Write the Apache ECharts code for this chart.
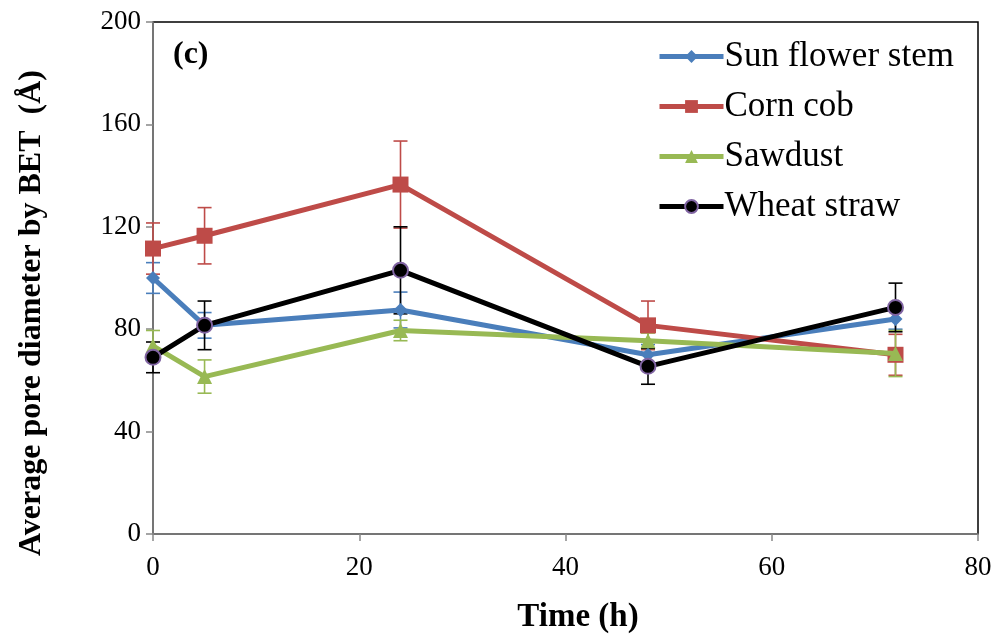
<!DOCTYPE html>
<html><head><meta charset="utf-8">
<script src="https://cdn.jsdelivr.net/npm/echarts@6/dist/echarts.min.js"></script>
<style>html,body{margin:0;padding:0;background:#fff}#c{width:1000px;height:642px}</style>
</head><body><div id="c"></div>
<script>
var times = [0, 5, 24, 48, 72];
var sunflower = [100, 81.5, 87.5, 70, 84];
var sunflowerErr = [6, 5, 7, 4, 4];
var corn = [111.5, 116.5, 136.5, 81.5, 70];
var cornErr = [10, 11, 17, 9.5, 8];
var sawdust = [73.5, 61.5, 79.5, 75.5, 70.5];
var sawdustErr = [6, 6.5, 4, 3, 9];
var wheat = [69, 81.5, 103, 65.5, 88.5];
var wheatErr = [6, 9.5, 17, 7, 9.5];
var names = ['Sun flower stem', 'Corn cob', 'Sawdust', 'Wheat straw'];
var yTicks = [0, 40, 80, 120, 160, 200];
var xTicks = [0, 20, 40, 60, 80];
var xTitle = 'Time (h)';
var yTitle = 'Average pore diameter by BET  (Å)';
var panelLabel = '(c)';

var colors = ['#4a7ebb', '#be4b48', '#98b954', '#000000'];
var errColors = ['#4a7ebb', '#be4b48', '#98b954', '#000000'];
var vals = [sunflower, corn, sawdust, wheat];
var errs = [sunflowerErr, cornErr, sawdustErr, wheatErr];
var symbols = ['diamond', 'rect', 'triangle', 'circle'];
var symSizes = [14, 16, 15, 15];

function pts(v) { return times.map(function (t, i) { return [t, v[i]]; }); }
function errPts(v, e) { return times.map(function (t, i) { return [t, v[i], e[i]]; }); }

var series = [];
vals.forEach(function (v, k) {
  series.push({
    type: 'custom',
    name: names[k] + ' err',
    z: 1,
    silent: true,
    data: errPts(v, errs[k]),
    renderItem: function (params, api) {
      var x = api.value(0), y = api.value(1), e = api.value(2);
      var top = api.coord([x, y + e]);
      var bot = api.coord([x, y - e]);
      var w = 7;
      var st = { stroke: errColors[k], lineWidth: 1.6 };
      return { type: 'group', children: [
        { type: 'line', shape: { x1: top[0], y1: top[1], x2: bot[0], y2: bot[1] }, style: st },
        { type: 'line', shape: { x1: top[0] - w, y1: top[1], x2: top[0] + w, y2: top[1] }, style: st },
        { type: 'line', shape: { x1: bot[0] - w, y1: bot[1], x2: bot[0] + w, y2: bot[1] }, style: st }
      ] };
    }
  });
});
vals.forEach(function (v, k) {
  series.push({
    type: 'line',
    name: names[k],
    z: 3 + k,
    data: pts(v),
    symbol: symbols[k],
    symbolSize: symSizes[k],
    lineStyle: { color: colors[k], width: 5 },
    itemStyle: k === 3 ? { color: '#000', borderColor: '#8064a2', borderWidth: 2 } : { color: colors[k], borderWidth: 0 },
    emphasis: { disabled: true }
  });
});

var chart = echarts.init(document.getElementById('c'), null, { renderer: 'canvas' });
chart.setOption({
  animation: false,
  backgroundColor: '#fff',
  grid: { left: 153, right: 22, top: 22, bottom: 108, show: true, borderColor: '#000', borderWidth: 1.5, backgroundColor: 'transparent' },
  legend: {
    data: names,
    orient: 'vertical',
    left: 657,
    top: 39,
    padding: 0,
    itemWidth: 64,
    itemHeight: 16,
    itemGap: 15,
    lineStyle: { width: 5 },
    textStyle: { fontFamily: 'Liberation Serif', fontSize: 35, color: '#000', padding: [0, 0, 0, -4] }
  },
  xAxis: {
    type: 'value', min: 0, max: 80, interval: 20,
    axisLine: { onZero: false, lineStyle: { color: '#888', width: 1.5 } },
    axisTick: { show: true, inside: false, length: 7, lineStyle: { color: '#888', width: 1.5 } },
    splitLine: { show: false },
    axisLabel: { fontFamily: 'Liberation Serif', fontSize: 27, color: '#000', margin: 20,
      formatter: function (v) { return xTicks.indexOf(v) >= 0 ? String(v) : ''; } }
  },
  yAxis: {
    type: 'value', min: 0, max: 200, interval: 40,
    axisLine: { show: true, lineStyle: { color: '#888', width: 1.5 } },
    axisTick: { show: true, inside: false, length: 7, lineStyle: { color: '#888', width: 1.5 } },
    splitLine: { show: false },
    axisLabel: { fontFamily: 'Liberation Serif', fontSize: 27, color: '#000', margin: 12,
      formatter: function (v) { return yTicks.indexOf(v) >= 0 ? String(v) : ''; } }
  },
  graphic: [{
    type: 'text', x: 173, y: 55,
    style: { text: panelLabel, font: 'bold 32px "Liberation Serif"', fill: '#000', textVerticalAlign: 'middle' }
  }, {
    type: 'text', x: 578, y: 617,
    style: { text: xTitle, font: 'bold 33px "Liberation Serif"', fill: '#000', textAlign: 'center', textVerticalAlign: 'middle' }
  }, {
    type: 'text', x: 32, y: 313, rotation: Math.PI / 2,
    style: { text: yTitle, font: 'bold 32px "Liberation Serif"', fill: '#000', textAlign: 'center', textVerticalAlign: 'middle' }
  }],
  series: series
});
</script></body></html>
